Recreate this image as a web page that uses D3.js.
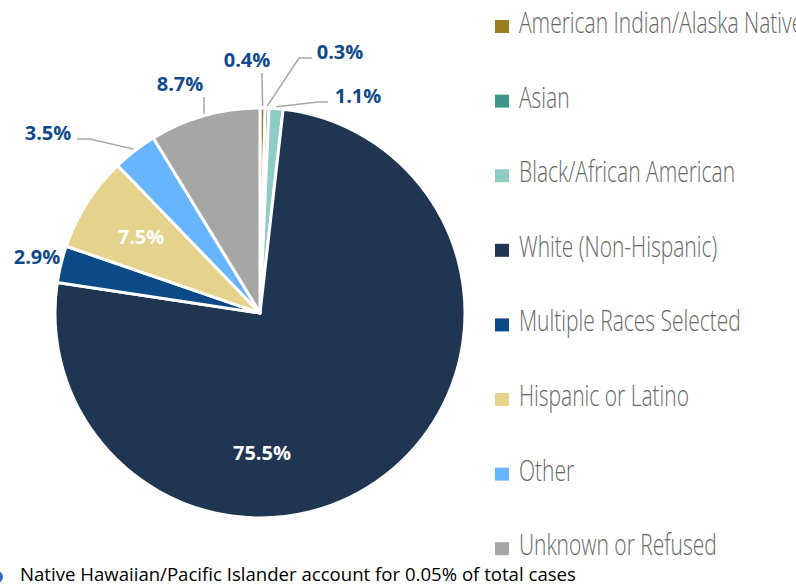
<!DOCTYPE html>
<html>
<head>
<meta charset="utf-8">
<script src="https://cdn.jsdelivr.net/npm/d3@7/dist/d3.min.js"></script>
<style>
  html, body { margin: 0; padding: 0; background: #fff; }
  svg { display: block; }
</style>
</head>
<body>
<svg id="chart" width="796" height="586"></svg>
<script>
// ---- data ----
const categories = [
  "American Indian/Alaska Native",
  "Asian",
  "Black/African American",
  "White (Non-Hispanic)",
  "Multiple Races Selected",
  "Hispanic or Latino",
  "Other",
  "Unknown or Refused"
];
const values = [0.4, 0.3, 1.1, 75.5, 2.9, 7.5, 3.5, 8.7];
const valueLabels = ["0.4%", "0.3%", "1.1%", "75.5%", "2.9%", "7.5%", "3.5%", "8.7%"];
const colors = ["#9b7d22", "#41968b", "#8fcdc4", "#1f3552", "#0b4a87", "#e5d28d", "#66b5fe", "#a6a6a6"];
const footnote = "Native Hawaiian/Pacific Islander account for 0.05% of total cases";

// ---- label layout (placement config) ----
const labelLayout = [
  { mode: "out", x: 247, y: 67, leader: [[262, 73]] },
  { mode: "out", x: 340, y: 59, leader: [[299, 58], [312, 58]] },
  { mode: "out", x: 358, y: 103, leader: [[318, 102], [328, 102]] },
  { mode: "in",  x: 262, y: 460 },
  { mode: "out", x: 37,  y: 264 },
  { mode: "in",  x: 141, y: 244 },
  { mode: "out", x: 48,  y: 140, leader: [[90, 139], [77, 139]] },
  { mode: "out", x: 180, y: 91, leader: [[204, 97]] }
];

const svg = d3.select("#chart");
const cx = 260, cy = 313, R = 205;

const pie = d3.pie().sort(null).value(d => d)(values);
const arc = d3.arc().innerRadius(0).outerRadius(R);

const g = svg.append("g").attr("transform", `translate(${cx},${cy})`);
g.selectAll("path.slice")
  .data(pie)
  .join("path")
  .attr("class", "slice")
  .attr("d", arc)
  .attr("fill", (d, i) => colors[i])
  .attr("stroke", "#fff")
  .attr("stroke-width", 3)
  .attr("stroke-linejoin", "round");

// leaders
pie.forEach((d, i) => {
  const lay = labelLayout[i];
  if (!lay.leader) return;
  const mid = (d.startAngle + d.endAngle) / 2;
  const sx = cx + (R + 2) * Math.sin(mid);
  const sy = cy - (R + 2) * Math.cos(mid);
  const pts = [[sx, sy]].concat(lay.leader);
  svg.append("path")
    .attr("d", d3.line()(pts))
    .attr("fill", "none")
    .attr("stroke", "#a6a6a6")
    .attr("stroke-width", 1.5);
});

// labels
svg.selectAll("text.vlabel")
  .data(pie)
  .join("text")
  .attr("class", "vlabel")
  .attr("x", (d, i) => labelLayout[i].x)
  .attr("y", (d, i) => labelLayout[i].y)
  .attr("text-anchor", "middle")
  .attr("font-family", "'Open Sans', sans-serif")
  .attr("font-weight", 700)
  .attr("font-size", 20)
  .attr("fill", (d, i) => labelLayout[i].mode === "in" ? "#ffffff" : "#0f4a8a")
  .text((d, i) => valueLabels[i]);

// legend
const legendX = 495, legendY0 = 33, legendStep = 74.6;
const lg = svg.append("g");
categories.forEach((c, i) => {
  const y = legendY0 + i * legendStep;
  lg.append("rect")
    .attr("x", legendX).attr("y", y - 13)
    .attr("width", 14).attr("height", 13)
    .attr("fill", colors[i]);
});
// condensed legend text via horizontal scale
const k = 0.70;
const tg = svg.append("g").attr("transform", `scale(${k},1)`);
categories.forEach((c, i) => {
  const y = legendY0 + i * legendStep;
  tg.append("text")
    .attr("x", (legendX + 24) / k).attr("y", y)
    .attr("font-family", "'Open Sans', sans-serif")
    .attr("font-weight", 300)
    .attr("font-size", 30)
    .attr("fill", "#666666")
    .text(c);
});

// footnote
svg.append("circle").attr("cx", -3).attr("cy", 577).attr("r", 6).attr("fill", "#2e6db5");
svg.append("text")
  .attr("x", 20).attr("y", 581)
  .attr("font-family", "'Open Sans', sans-serif")
  .attr("font-size", 18.6)
  .attr("fill", "#000")
  .text(footnote);
</script>
</body>
</html>
